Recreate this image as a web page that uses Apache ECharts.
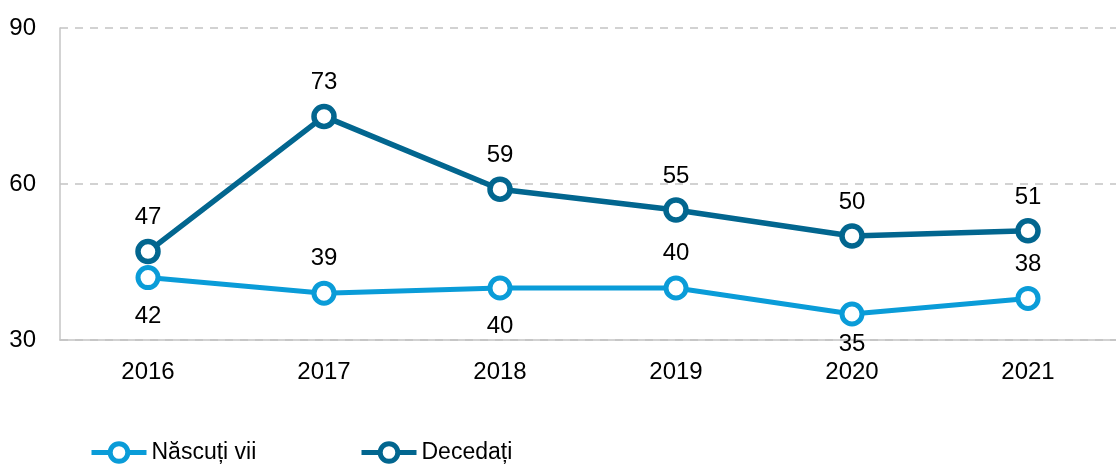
<!DOCTYPE html>
<html>
<head>
<meta charset="utf-8">
<script src="https://cdn.jsdelivr.net/npm/echarts@6/dist/echarts.min.js"></script>
<style>
  html, body { margin: 0; padding: 0; background: #fff; }
  #chart { width: 1116px; height: 466px; }
</style>
</head>
<body>
<div id="chart"></div>
<script>
const years = ["2016", "2017", "2018", "2019", "2020", "2021"];
const nascuti = [42, 39, 40, 40, 35, 38];
const decedati = [47, 73, 59, 55, 50, 51];
// labels for Născuți: below / above alternating as in the picture
const nascutiLabelPos = ["bottom", "top", "bottom", "top", "bottom", "top"];

const FONT = "'Liberation Sans', Arial, sans-serif";
const DARK = "#02668f";
const LIGHT = "#0a9cd8";

const myChart = echarts.init(document.getElementById("chart"));

const legendItem = (name, color) => ({
  name: name,
  itemStyle: { color: "#fff", borderColor: color, borderWidth: 5 },
  lineStyle: { color: color, width: 5 }
});

const legendBase = {
  top: 436,
  itemWidth: 55,
  itemHeight: 22,
  textStyle: { fontFamily: FONT, fontSize: 23, color: "#000" }
};

const option = {
  animation: false,
  textStyle: { fontFamily: FONT, color: "#000" },
  grid: { left: 60, right: -11, top: 28, bottom: 126 },
  legend: [
    Object.assign({ left: 84, data: [legendItem("Născuți vii", LIGHT)] }, legendBase),
    Object.assign({ left: 354, data: [legendItem("Decedați", DARK)] }, legendBase)
  ],
  xAxis: {
    type: "category",
    data: years,
    axisLine: { lineStyle: { color: "#c4c4c4", width: 1.5 } },
    axisTick: { length: 6, lineStyle: { color: "#c4c4c4", width: 1.5 } },
    axisLabel: { fontFamily: FONT, fontSize: 24, color: "#000", margin: 20 }
  },
  yAxis: {
    type: "value",
    min: 30,
    max: 90,
    interval: 30,
    axisLine: { show: true, lineStyle: { color: "#c4c4c4", width: 1.5 } },
    axisTick: { show: false },
    splitLine: { lineStyle: { color: "#c4c4c4", width: 1.5, type: [8, 7] } },
    axisLabel: { fontFamily: FONT, fontSize: 24, color: "#000", margin: 24 }
  },
  series: [
    {
      name: "Născuți vii",
      type: "line",
      data: nascuti.map((v, i) => ({
        value: v,
        label: {
          position: nascutiLabelPos[i],
          distance: nascutiLabelPos[i] === "bottom" ? (v < 38 ? 6 : 14) : 10
        }
      })),
      symbol: "circle",
      symbolSize: 20,
      lineStyle: { color: LIGHT, width: 5 },
      itemStyle: { color: "#fff", borderColor: LIGHT, borderWidth: 5 },
      label: { show: true, fontFamily: FONT, fontSize: 24, color: "#000", distance: 10 },
      z: 3
    },
    {
      name: "Decedați",
      type: "line",
      data: decedati,
      symbol: "circle",
      symbolSize: 20,
      lineStyle: { color: DARK, width: 5.5 },
      itemStyle: { color: "#fff", borderColor: DARK, borderWidth: 5.5 },
      label: { show: true, position: "top", fontFamily: FONT, fontSize: 24, color: "#000", distance: 9 },
      z: 2
    }
  ]
};

myChart.setOption(option);
window.onresize = function () {
  myChart.resize();
};
</script>
</body>
</html>
